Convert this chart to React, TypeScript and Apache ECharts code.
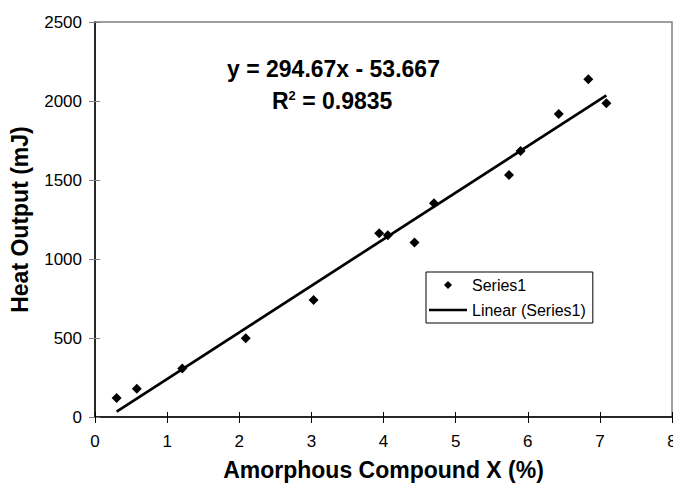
import React, { useEffect, useRef } from "react";
import * as echarts from "echarts";

const xValues = [0.3, 0.58, 1.21, 2.09, 3.03, 3.94, 4.06, 4.43, 4.7, 5.74, 5.9, 6.43, 6.84, 7.09];
const yValues = [120, 179, 307, 499, 741, 1163, 1150, 1104, 1353, 1532, 1683, 1917, 2138, 1985];
const SLOPE = 294.67;
const INTERCEPT = -53.667;
const R2 = 0.9835;
const seriesName = "Series1";
const trendName = "Linear (Series1)";
const xTitle = "Amorphous Compound X (%)";
const yTitle = "Heat Output (mJ)";

const FONT = "'Liberation Sans', Arial, sans-serif";

export default function App() {
  const ref = useRef<HTMLDivElement>(null);
  useEffect(() => {
    document.body.style.margin = "0";
    if (!ref.current) return;
    const chart = echarts.init(ref.current, undefined, { renderer: "svg" });
    const points = xValues.map((x, i) => [x, yValues[i]]);
    const xMin = Math.min(...xValues);
    const xMax = Math.max(...xValues);
    const trend = [
      [xMin, SLOPE * xMin + INTERCEPT],
      [xMax, SLOPE * xMax + INTERCEPT],
    ];
    const commonX = { type: "value", min: 0, max: 8, interval: 1 };
    const commonY = { type: "value", min: 0, max: 2500, interval: 500 };
    chart.setOption({
      animation: false,
      backgroundColor: "#ffffff",
      textStyle: { fontFamily: FONT },
      grid: {
        left: 95,
        right: 1,
        top: 22,
        bottom: 72,
        containLabel: false,
        outerBoundsMode: "none",
        show: true,
        borderColor: "#808080",
        borderWidth: 1.5,
        backgroundColor: "transparent",
      },
      xAxis: [
        {
          ...commonX,
          name: xTitle,
          nameLocation: "middle",
          nameGap: 41,
          nameTextStyle: { fontFamily: FONT, fontSize: 23, fontWeight: "bold", color: "#000" },
          axisLine: { show: true, lineStyle: { color: "#000", width: 1.5 } },
          axisTick: { show: true, inside: false, length: 6, lineStyle: { color: "#000", width: 1 } },
          axisLabel: { fontFamily: FONT, fontSize: 17, color: "#000", margin: 16 },
          splitLine: { show: false },
        },
        {
          ...commonX,
          position: "bottom",
          axisLine: { show: false },
          axisTick: { show: true, inside: true, length: 5, lineStyle: { color: "#000", width: 1 } },
          axisLabel: { show: false },
          splitLine: { show: false },
        },
      ],
      yAxis: [
        {
          ...commonY,
          name: yTitle,
          nameLocation: "middle",
          nameGap: 64,
          nameTextStyle: { fontFamily: FONT, fontSize: 23, fontWeight: "bold", color: "#000" },
          axisLine: { show: true, lineStyle: { color: "#000", width: 1.5 } },
          axisTick: { show: true, inside: false, length: 6, lineStyle: { color: "#808080", width: 1 } },
          axisLabel: {
            fontFamily: FONT,
            fontSize: 17,
            color: "#000",
            margin: 13,
            formatter: (v: number) => String(v),
          },
          splitLine: { show: false },
        },
        {
          ...commonY,
          position: "left",
          axisLine: { show: false },
          axisTick: { show: true, inside: true, length: 5, lineStyle: { color: "#808080", width: 1 } },
          axisLabel: { show: false },
          splitLine: { show: false },
        },
      ],
      legend: {
        orient: "vertical",
        left: 426,
        top: 272,
        padding: [4, 7, 4, 3],
        itemGap: 7,
        itemWidth: 38,
        itemHeight: 8,
        symbolKeepAspect: true,
        borderColor: "#000",
        borderWidth: 1,
        backgroundColor: "#fff",
        textStyle: { fontFamily: FONT, fontSize: 16, color: "#000", lineHeight: 18 },
        data: [
          { name: seriesName, icon: "path://M5,0 L10,5 L5,10 L0,5 Z", itemStyle: { color: "#000" } },
          { name: trendName, icon: "path://M0,0 L38,0 L38,2.5 L0,2.5 Z", itemStyle: { color: "#000" } },
        ],
      },
      graphic: [
        {
          type: "text",
          left: 227,
          top: 57,
          style: {
            text: `y = ${SLOPE}x - ${Math.abs(INTERCEPT)}`,
            fontFamily: FONT,
            fontSize: 23,
            fontWeight: "bold",
            fill: "#000",
          },
        },
        {
          type: "text",
          left: 272,
          top: 89,
          style: {
            text: `{a|R}{s|2}{a| = ${R2}}`,
            fontFamily: FONT,
            fill: "#000",
            rich: {
              a: { fontFamily: FONT, fontSize: 23, fontWeight: "bold", lineHeight: 23, fill: "#000" },
              s: { fontFamily: FONT, fontSize: 13, fontWeight: "bold", verticalAlign: "top", lineHeight: 13, fill: "#000" },
            },
          },
        },
      ],
      series: [
        {
          name: seriesName,
          type: "scatter",
          xAxisIndex: 0,
          yAxisIndex: 0,
          symbol: "diamond",
          symbolSize: 10,
          itemStyle: { color: "#000", opacity: 1 },
          data: points,
          z: 3,
        },
        {
          name: trendName,
          type: "line",
          xAxisIndex: 0,
          yAxisIndex: 0,
          showSymbol: false,
          symbol: "none",
          lineStyle: { color: "#000", width: 2.7 },
          itemStyle: { color: "#000" },
          data: trend,
          z: 2,
        },
      ],
    });
    return () => chart.dispose();
  }, []);
  return <div ref={ref} style={{ width: 673, height: 489 }} />;
}
